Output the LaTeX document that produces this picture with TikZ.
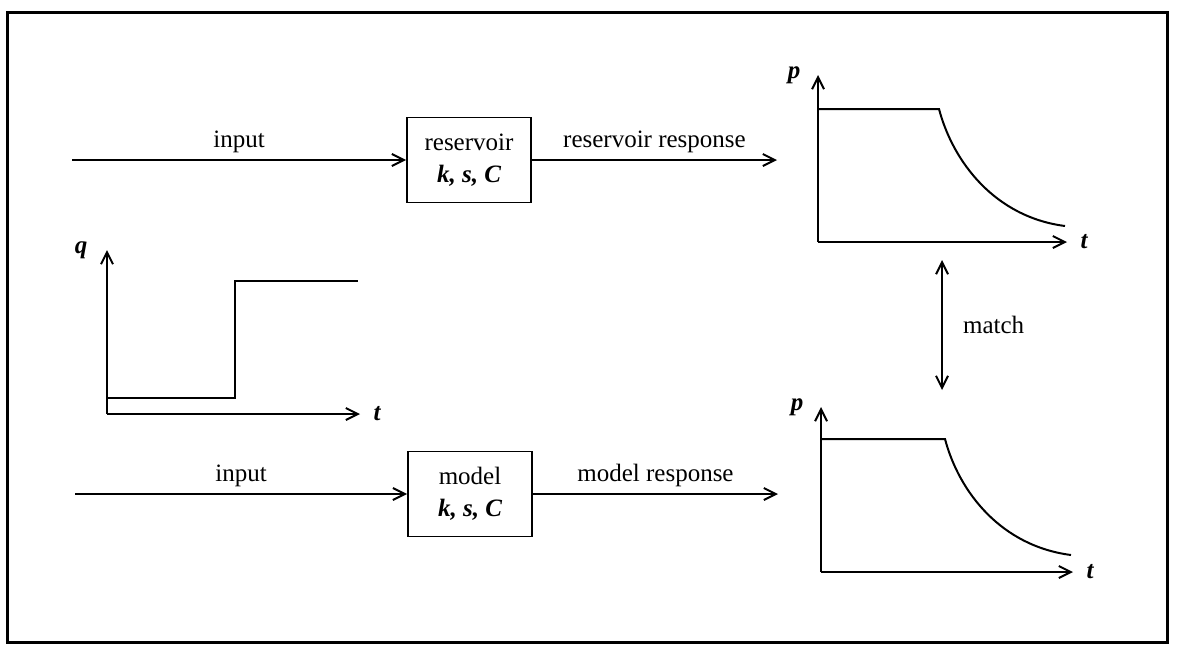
\documentclass[tikz,border=0pt]{standalone}
\usepackage{fontspec}
\setmainfont{Liberation Serif}
\usetikzlibrary{arrows.meta, positioning}

\begin{document}
\begin{tikzpicture}[x=0.5pt, y=-0.5pt,
        font=\fontsize{12.5pt}{16pt}\selectfont,
        bloque/.style={rectangle, draw, line width=0.9pt, minimum width=62pt, minimum height=42.5pt, align=center, inner sep=2pt},
        flecha/.style={-{Straight Barb[length=6pt,width=6pt]}, line width=1pt},
        eje/.style={-{Straight Barb[length=6pt,width=6pt]}, line width=1pt},
        etiq/.style={font=\fontsize{12.5pt}{16pt}\selectfont\bfseries\itshape}]
        \useasboundingbox (0,0) rectangle (1177,644);
        \draw[line width=1.5pt] (7,12) rectangle (1167,642);

        % bloques
        \node[bloque] (res) at (469,160) {reservoir\\{\bfseries\itshape k, s, C}};
        \node[bloque] (mod) at (470,494) {model\\{\bfseries\itshape k, s, C}};
        \coordinate (in1) at (72,160);
        \coordinate (in2) at (75,494);
        \coordinate (out1) at (777,160);
        \coordinate (out2) at (778,494);
        \draw[flecha] (in1) -- (res.west) node[midway, above] {input};
        \draw[flecha] (in2) -- (mod.west) node[midway, above] {input};
        \draw[flecha] (res.east) -- (out1) node[midway, above] {reservoir response};
        \draw[flecha] (mod.east) -- (out2) node[midway, above] {model response};

        % entrada q(t)
        \coordinate (oq) at (107,414);
        \draw[eje] (oq) -- (107,250) node[etiq, left=6pt] (q) {q};
        \draw[eje] (oq) -- (360,414) node[etiq, right=3pt] (tq) {t};
        \draw[line width=1pt] (107,398) -- (235,398) -- (235,281) -- (358,281);

        % respuesta del yacimiento
        \coordinate (o1) at (818,242);
        \draw[eje] (o1) -- (818,75) node[etiq, left=5pt] (p1) {p};
        \draw[eje] (o1) -- (1067,242) node[etiq, right=3pt] (t1) {t};
        \draw[line width=1pt] (818,109) -- (939,109) .. controls (953,162) and (995,217) .. (1065,226);

        % respuesta del modelo
        \coordinate (o2) at (821,572);
        \draw[eje] (o2) -- (821,407) node[etiq, left=5pt] (p2) {p};
        \draw[eje] (o2) -- (1073,572) node[etiq, right=3pt] (t2) {t};
        \draw[line width=1pt] (821,439) -- (945,439) .. controls (959,492) and (1001,546) .. (1071,555);

        % ajuste
        \coordinate (m1) at (942,260);
        \coordinate (m2) at (942,390);
        \draw[{Straight Barb[length=6pt,width=6pt]}-{Straight Barb[length=6pt,width=6pt]}, line width=1pt]
            (m1) -- (m2) node[midway, right=6.7pt] (match) {match};
\end{tikzpicture}
\end{document}
